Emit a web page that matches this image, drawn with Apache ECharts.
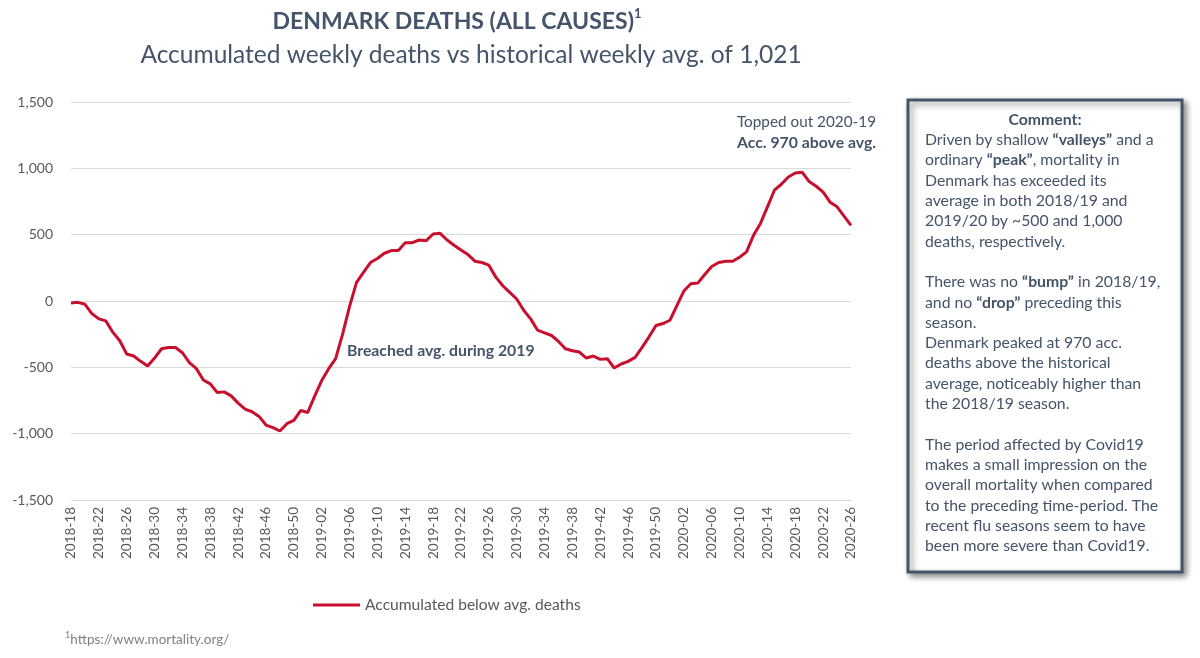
<!DOCTYPE html>
<html><head><meta charset="utf-8">
<script src="https://cdn.jsdelivr.net/npm/echarts@6/dist/echarts.min.js"></script>
<style>html,body{margin:0;padding:0;background:#fff}#c{width:1200px;height:658px}</style>
</head><body><div id="c"></div>
<script>
// ---- data ----
const years = [2018, 2019, 2020];
const firstWeek = [18, 1, 1];
const lastWeek = [52, 52, 26];
const weeks = [];
for (let y = 0; y < years.length; y++) {
  for (let w = firstWeek[y]; w <= lastWeek[y]; w++) {
    weeks.push(years[y] + '-' + (w < 10 ? '0' + w : '' + w));
  }
}
const accDeaths = [
  -15, -10, -25, -95, -135, -150, -235, -300, -400, -415,
  -455, -490, -430, -360, -350, -350, -390, -465, -510, -595,
  -625, -690, -685, -715, -770, -815, -835, -870, -935, -955,
  -980, -925, -900, -825, -840, -715, -600, -510, -435, -250,
  -40, 140, 215, 290, 320, 360, 380, 380, 440, 440,
  460, 455, 505, 510, 460, 420, 385, 350, 300, 290,
  270, 180, 115, 65, 15, -70, -135, -220, -240, -260,
  -305, -360, -375, -385, -430, -415, -440, -435, -505, -475,
  -455, -425, -350, -270, -185, -170, -145, -35, 75, 130,
  135, 200, 260, 290, 300, 300, 330, 370, 495, 585,
  710, 835, 880, 935, 965, 970, 900, 865, 820, 745,
  710, 640, 570
];
const yMin = -1500, yMax = 1500, yStep = 500;
const seriesName = 'Accumulated below avg. deaths';
const titleText = 'DENMARK DEATHS (ALL CAUSES)';
const subtitleText = 'Accumulated weekly deaths vs historical weekly avg. of 1,021';
const noteBreached = 'Breached avg. during 2019';
const noteTop1 = 'Topped out 2020-19';
const noteTop2 = 'Acc. 970 above avg.';
const footnote = 'https://www.mortality.org/';
const commentTitle = 'Comment:';
const commentLines = [
  'Driven by shallow {b|“valleys”} and a',
  'ordinary {b|“peak”}, mortality in',
  'Denmark has exceeded its',
  'average in both 2018/19 and',
  '2019/20 by ~500 and 1,000',
  'deaths, respectively.',
  '',
  'There was no {b|“bump”} in 2018/19,',
  'and no {b|“drop”} preceding this',
  'season.',
  'Denmark peaked at 970 acc.',
  'deaths above the historical',
  'average, noticeably higher than',
  'the 2018/19 season.',
  '',
  'The period affected by Covid19',
  'makes a small impression on the',
  'overall mortality when compared',
  'to the preceding time-period. The',
  'recent flu seasons seem to have',
  'been more severe than Covid19.'
];

// ---- styles ----
const FONT = 'Lato, "Open Sans", sans-serif';
const DARK = '#44546A';
const GREY = '#595959';
const RED = '#C8102E';

const graphics = [];
graphics.push({
  type: 'text', x: 457, y: 22, z: 10,
  style: {
    text: '{t|' + titleText + '}{s|1}',
    align: 'center', verticalAlign: 'middle',
    rich: {
      t: { fontFamily: FONT, fontSize: 23, fontWeight: 'bold', fill: DARK, lineHeight: 30 },
      s: { fontFamily: FONT, fontSize: 13, fontWeight: 'bold', fill: DARK, verticalAlign: 'top', lineHeight: 26 }
    }
  }
});
graphics.push({
  type: 'text', x: 471, y: 55, z: 10,
  style: { text: subtitleText, fontFamily: FONT, fontSize: 24.5, fill: DARK, align: 'center', verticalAlign: 'middle' }
});
graphics.push({
  type: 'text', x: 347, y: 351, z: 10,
  style: { text: noteBreached, fontFamily: FONT, fontSize: 15.8, fontWeight: 'bold', fill: DARK, align: 'left', verticalAlign: 'middle' }
});
graphics.push({
  type: 'text', x: 876, y: 122, z: 10,
  style: { text: noteTop1, fontFamily: FONT, fontSize: 15.3, fill: DARK, align: 'right', verticalAlign: 'middle' }
});
graphics.push({
  type: 'text', x: 876, y: 143, z: 10,
  style: { text: noteTop2, fontFamily: FONT, fontSize: 15.8, fontWeight: 'bold', fill: DARK, align: 'right', verticalAlign: 'middle' }
});
graphics.push({
  type: 'text', x: 65, y: 640, z: 10,
  style: {
    text: '{s|1}{t|' + footnote + '}',
    rich: {
      t: { fontFamily: FONT, fontSize: 13.5, fill: '#808080', lineHeight: 18 },
      s: { fontFamily: FONT, fontSize: 9, fill: '#808080', verticalAlign: 'top', lineHeight: 16 }
    },
    verticalAlign: 'middle'
  }
});
// comment box
graphics.push({
  type: 'rect', z: 5,
  shape: { x: 908, y: 100, width: 274, height: 472 },
  style: { fill: '#fff', stroke: DARK, lineWidth: 3, shadowBlur: 6, shadowOffsetX: 3, shadowOffsetY: 3, shadowColor: 'rgba(0,0,0,0.45)' }
});
graphics.push({
  type: 'text', x: 1045, y: 120, z: 10,
  style: { text: commentTitle, fontFamily: FONT, fontSize: 15.8, fontWeight: 'bold', fill: DARK, align: 'center', verticalAlign: 'middle' }
});
commentLines.forEach(function (ln, i) {
  if (!ln) return;
  graphics.push({
    type: 'text', x: 925, y: 140 + i * 20.3, z: 10,
    style: {
      text: ln, fontFamily: FONT, fontSize: 15.8, fill: DARK, verticalAlign: 'middle',
      rich: { b: { fontFamily: FONT, fontSize: 15.8, fontWeight: 'bold', fill: DARK } }
    }
  });
});

const chart = echarts.init(document.getElementById('c'));
chart.setOption({
  backgroundColor: '#fff',
  animation: false,
  grid: { left: 71, right: 349, top: 102, bottom: 158, containLabel: false },
  legend: {
    data: [seriesName], left: 308, top: 592, icon: 'rect', itemWidth: 47, itemHeight: 3,
    textStyle: { fontFamily: FONT, fontSize: 15.6, color: GREY }
  },
  xAxis: {
    type: 'category', data: weeks, boundaryGap: false,
    axisLine: { show: false }, axisTick: { show: false },
    axisLabel: { interval: 3, rotate: 90, margin: 7, fontFamily: FONT, fontSize: 13.5, color: GREY }
  },
  yAxis: {
    type: 'value', min: yMin, max: yMax, interval: yStep,
    axisLine: { show: false }, axisTick: { show: false },
    splitLine: { lineStyle: { color: '#D9D9D9', width: 1 } },
    axisLabel: {
      margin: 18, fontFamily: FONT, fontSize: 14, color: GREY,
      formatter: function (v) { return v.toLocaleString('en-US'); }
    }
  },
  series: [{
    name: seriesName, type: 'line', data: accDeaths, showSymbol: false, symbol: 'none',
    lineStyle: { color: RED, width: 3 }, itemStyle: { color: RED }
  }],
  graphic: graphics
});
</script></body></html>
